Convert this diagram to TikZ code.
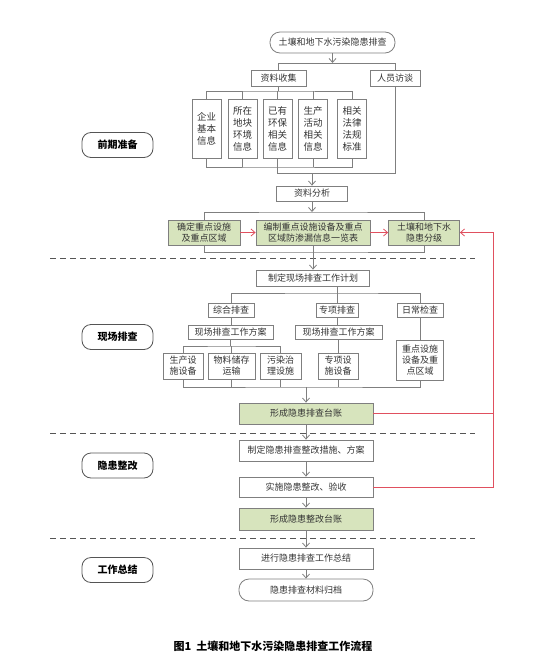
\documentclass[tikz,border=0pt]{standalone}
\usepackage{fontspec}
\setmainfont{Noto Sans CJK SC}
\usetikzlibrary{arrows.meta}
\definecolor{boxgray}{HTML}{7F7F7F}
\definecolor{txtgray}{HTML}{333333}
\definecolor{greenfill}{HTML}{D7E4BD}
\definecolor{redline}{HTML}{E0505F}
\definecolor{dashgray}{HTML}{555555}
\begin{document}
\begin{tikzpicture}[x=1pt,y=-1pt,
  box/.style={draw=boxgray, fill=white, line width=0.8pt, inner sep=0pt, align=center, text=txtgray, font=\fontsize{9}{11}\selectfont},
  gbox/.style={box, fill=greenfill},
  tallbox/.style={box, font=\fontsize{9.5}{12}\selectfont},
  phase/.style={draw=dashgray, fill=white, line width=0.8pt, rounded corners=9pt, minimum width=71pt, minimum height=25pt, inner sep=0pt, font=\fontsize{10}{12}\selectfont\bfseries, text=black},
  conn/.style={draw=boxgray, line width=0.8pt},
  arr/.style={conn, -{Straight Barb[length=4pt,width=7pt]}},
  redarr/.style={draw=redline, line width=0.8pt, -{Straight Barb[length=4pt,width=7pt]}},
  redln/.style={draw=redline, line width=0.8pt},
  sep/.style={draw=dashgray, line width=1pt, dash pattern=on 6pt off 4pt}
]
\useasboundingbox (0,0) rectangle (549,656);

% phase labels
\node[phase] (p1) at (117.5,145) {前期准备};
\node[phase] (p2) at (117.5,337) {现场排查};
\node[phase] (p3) at (117.5,465.5) {隐患整改};
\node[phase] (p4) at (117.5,570) {工作总结};

% separators
\coordinate (d1a) at (50,258); \coordinate (d1b) at (475,258);
\coordinate (d2a) at (50,433); \coordinate (d2b) at (475,433);
\coordinate (d3a) at (50,538); \coordinate (d3b) at (475,538);
\draw[sep] (d1a) -- (d1b);
\draw[sep] (d2a) -- (d2b);
\draw[sep] (d3a) -- (d3b);

% stage 1
\node[box, rounded corners=10pt, minimum width=125pt, minimum height=21pt] (top) at (332.5,42.5) {土壤和地下水污染隐患排查};
\node[box, minimum width=55pt, minimum height=16pt] (collect) at (278.5,78) {资料收集};
\node[box, minimum width=50pt, minimum height=16pt] (interview) at (395,78) {人员访谈};
\node[tallbox, minimum width=29pt, minimum height=59pt] (i1) at (206.5,128.5) {企业\\基本\\信息};
\node[tallbox, minimum width=29pt, minimum height=59pt] (i2) at (242.5,128.5) {所在\\地块\\环境\\信息};
\node[tallbox, minimum width=29pt, minimum height=59pt] (i3) at (277.5,128.5) {已有\\环保\\相关\\信息};
\node[tallbox, minimum width=29pt, minimum height=59pt] (i4) at (313,128.5) {生产\\活动\\相关\\信息};
\node[tallbox, minimum width=29pt, minimum height=59pt] (i5) at (352,128.5) {相关\\法律\\法规\\标准};
\node[box, minimum width=71pt, minimum height=15pt] (analysis) at (312,193.5) {资料分析};
\node[gbox, minimum width=72pt, minimum height=25pt] (g1) at (204,232.5) {确定重点设施\\及重点区域};
\node[gbox, minimum width=114pt, minimum height=25pt] (g2) at (313,232.5) {编制重点设施设备及重点\\区域防渗漏信息一览表};
\node[gbox, minimum width=71pt, minimum height=25pt] (g3) at (424,232.5) {土壤和地下水\\隐患分级};

% stage 1 connectors
\coordinate (t1) at (332.5,63);
\draw[arr] (top.south) -- (t1);
\draw[conn] (collect.north) |- (interview.north |- t1) -- (interview.north);
\coordinate (b91) at (278.5,91);
\draw[conn] (collect.south) -- (b91);
\draw[conn] (i1.north) |- (b91) -| (i5.north);
\draw[conn] (i2.north) -- (i2.north |- b91);
\draw[conn] (i3.north) -- (i3.north |- b91);
\draw[conn] (i4.north) -- (i4.north |- b91);
\coordinate (b167) at (277.5,167);
\draw[conn] (i1.south) |- (b167) -| (i5.south);
\draw[conn] (i2.south) -- (i2.south |- b167);
\draw[conn] (i3.south) -- (i3.south |- b167);
\draw[conn] (i4.south) -- (i4.south |- b167);
\coordinate (b173) at (277.5,173);
\draw[conn] (b167) -- (b173) -| (interview.south);
\coordinate (a173) at (312,173);
\draw[arr] (a173) -- (analysis.north);
\coordinate (b212) at (312,212);
\draw[arr] (analysis.south) -- (b212);
\draw[conn] (g1.north) |- (b212) -| (g3.north);
\coordinate (b252) at (313,252);
\draw[conn] (g1.south) |- (b252) -| (g3.south);
\draw[redarr] (g1.east) -- (g2.west);
\draw[redarr] (g2.east) -- (g3.west);

% stage 2
\node[box, minimum width=113pt, minimum height=16pt] (plan) at (313,278) {制定现场排查工作计划};
\draw[arr] (g2.south) -- (plan.north);
\node[box, minimum width=46pt, minimum height=14pt] (zh) at (231,310) {综合排查};
\node[box, minimum width=42pt, minimum height=14pt] (zx) at (337,310) {专项排查};
\node[box, minimum width=46pt, minimum height=14pt] (rc) at (420,310) {日常检查};
\node[box, minimum width=85pt, minimum height=14pt] (fa1) at (230.5,332) {现场排查工作方案};
\node[box, minimum width=87pt, minimum height=14pt] (fa2) at (338.5,332) {现场排查工作方案};
\node[box, minimum width=40pt, minimum height=26pt] (b1) at (183,366) {生产设\\施设备};
\node[box, minimum width=47pt, minimum height=26pt] (b2) at (231.5,366) {物料储存\\运输};
\node[box, minimum width=41pt, minimum height=26pt] (b3) at (280.5,366) {污染治\\理设施};
\node[box, minimum width=40pt, minimum height=26pt] (b4) at (338,366) {专项设\\施设备};
\node[box, minimum width=47pt, minimum height=40pt] (b5) at (420,360) {重点设施\\设备及重\\点区域};
\node[gbox, minimum width=134pt, minimum height=21pt] (ledger) at (306,413.5) {形成隐患排查台账};

\coordinate (pl) at (337,286);
\coordinate (b293) at (337,293);
\draw[conn] (pl) -- (b293);
\draw[conn] (zh.north) |- (b293) -| (rc.north);
\draw[conn] (b293) -- (zx.north);
\draw[conn] (zh.south) -- (zh.south |- fa1.north);
\draw[conn] (zx.south) -- (zx.south |- fa2.north);
\coordinate (b346) at (231.5,346);
\draw[conn] (fa1.south |- fa1.south) -- (fa1.south |- b346);
\draw[conn] (b1.north) |- (b346) -| (b3.north);
\draw[conn] (b346) -- (b2.north);
\draw[conn] (fa2.south) -- (fa2.south |- b4.north);
\draw[conn] (rc.south) -- (b5.north);
\coordinate (b387) at (306,387);
\draw[conn] (b1.south) |- (b387) -| (b5.south);
\draw[conn] (b2.south) -- (b2.south |- b387);
\draw[conn] (b3.south) -- (b3.south |- b387);
\draw[conn] (b4.south) -- (b4.south |- b387);
\draw[arr] (b387) -- (ledger.north);

% stage 3
\node[box, minimum width=134pt, minimum height=21pt] (m1) at (306,450.5) {制定隐患排查整改措施、方案};
\node[box, minimum width=134pt, minimum height=20pt] (m2) at (306,487) {实施隐患整改、验收};
\node[gbox, minimum width=134pt, minimum height=22pt] (m3) at (306,519) {形成隐患整改台账};
\draw[arr] (ledger.south) -- (m1.north);
\draw[arr] (m1.south) -- (m2.north);
\draw[arr] (m2.south) -- (m3.north);

% stage 4
\node[box, minimum width=134pt, minimum height=21pt] (s1) at (306,558.5) {进行隐患排查工作总结};
\node[box, rounded corners=10pt, minimum width=134pt, minimum height=22pt] (s2) at (306,590) {隐患排查材料归档};
\draw[arr] (m3.south) -- (s1.north);
\draw[arr] (s1.south) -- (s2.north);

% feedback (red)
\coordinate (r1) at (493,413.5);
\coordinate (r2) at (493,487);
\draw[redln] (ledger.east) -- (r1);
\draw[redarr] (m2.east) -- (r2) |- (g3.east);

% caption
\node[font=\fontsize{11}{13}\selectfont\bfseries, text=black] (cap) at (273,646) {图1\ \ 土壤和地下水污染隐患排查工作流程};
\end{tikzpicture}
\end{document}
